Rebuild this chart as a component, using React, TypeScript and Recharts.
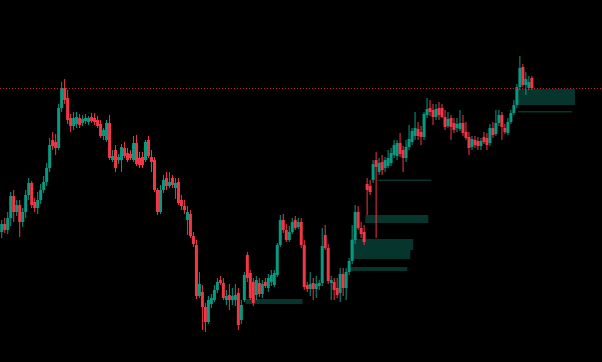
import { ComposedChart, Bar, XAxis, YAxis, ReferenceArea, ReferenceLine } from 'recharts'

// price levels are read straight off the picture (screen units, 0 = top), so the y axis is reversed
const opens = [
  232, 224, 230, 218, 196, 212, 205, 222, 212, 195,
  183, 202, 208, 200, 190, 182, 168, 140, 142, 148,
  108, 88, 98, 118, 126, 124, 118, 123, 121, 122,
  117, 118, 120, 124, 136, 140, 123, 160, 150, 160,
  160, 148, 153, 154, 160, 143, 158, 157, 160, 140,
  157, 160, 190, 212, 190, 178, 186, 178, 188, 182,
  200, 206, 220, 214, 236, 245, 296, 292, 307, 322,
  304, 300, 290, 280, 283, 300, 295, 300, 300, 293,
  320, 300, 255, 273, 282, 295, 283, 294, 282, 288,
  282, 285, 275, 245, 220, 230, 240, 232, 220, 227,
  222, 245, 285, 289, 283, 289, 286, 283, 235, 248,
  283, 282, 288, 293, 274, 288, 272, 261, 240, 212,
  228, 232, 184, 186, 180, 160, 172, 162, 168, 166,
  163, 155, 156, 143, 150, 158, 147, 142, 136, 129,
  132, 137, 115, 108, 110, 117, 108, 108, 117, 126,
  118, 123, 128, 129, 123, 132, 137, 147, 140, 141,
  146, 137, 138, 143, 128, 134, 123, 115, 128, 133,
  122, 113, 105, 87, 67, 85, 88, 78,
]
const highs = [
  220, 218, 212, 192, 190, 200, 200, 208, 190, 178,
  181, 198, 192, 184, 176, 163, 138, 132, 134, 104,
  82, 79, 90, 114, 112, 112, 114, 115, 114, 116,
  113, 113, 116, 120, 128, 120, 115, 150, 145, 154,
  144, 142, 148, 150, 136, 135, 152, 152, 140, 136,
  150, 157, 188, 185, 175, 172, 172, 175, 178, 178,
  195, 200, 206, 210, 232, 240, 272, 285, 303, 296,
  294, 285, 278, 276, 278, 290, 284, 288, 284, 288,
  300, 272, 252, 270, 278, 276, 278, 280, 278, 274,
  270, 270, 243, 215, 214, 224, 226, 218, 216, 218,
  218, 240, 282, 272, 278, 276, 280, 228, 225, 244,
  276, 278, 278, 268, 268, 268, 258, 225, 205, 206,
  222, 225, 178, 180, 160, 152, 158, 155, 157, 150,
  148, 140, 140, 133, 146, 140, 125, 128, 112, 122,
  126, 112, 98, 100, 104, 104, 102, 104, 110, 112,
  115, 118, 118, 110, 115, 122, 132, 136, 136, 137,
  138, 132, 133, 124, 122, 110, 110, 112, 124, 118,
  110, 100, 84, 56, 64, 72, 76, 76,
]
const lows = [
  238, 233, 234, 226, 222, 216, 237, 227, 218, 200,
  208, 212, 214, 204, 193, 186, 172, 150, 155, 150,
  112, 104, 124, 132, 130, 128, 128, 126, 124, 125,
  123, 125, 128, 138, 140, 142, 160, 162, 172, 164,
  172, 158, 162, 160, 162, 166, 168, 168, 162, 158,
  172, 192, 215, 214, 193, 190, 188, 188, 199, 205,
  210, 214, 235, 238, 247, 299, 298, 330, 332, 324,
  308, 302, 293, 285, 300, 305, 310, 305, 306, 330,
  324, 302, 282, 300, 306, 300, 297, 298, 288, 292,
  286, 287, 277, 247, 233, 242, 242, 234, 230, 229,
  248, 290, 292, 296, 300, 298, 290, 286, 250, 284,
  300, 300, 298, 302, 296, 300, 275, 264, 244, 230,
  238, 245, 215, 195, 183, 238, 175, 175, 172, 168,
  166, 158, 160, 157, 172, 162, 150, 145, 140, 140,
  145, 140, 118, 116, 125, 120, 120, 118, 130, 128,
  140, 133, 132, 131, 136, 140, 155, 150, 148, 150,
  150, 144, 150, 146, 138, 136, 126, 140, 134, 135,
  124, 115, 108, 90, 87, 95, 90, 90,
]
const closes = [
  224, 230, 218, 196, 212, 205, 222, 212, 195, 183,
  205, 208, 200, 190, 182, 168, 145, 146, 148, 108,
  88, 100, 120, 126, 118, 117, 125, 119, 118, 118,
  121, 122, 126, 136, 130, 123, 158, 156, 168, 157,
  147, 156, 160, 158, 143, 164, 165, 165, 142, 156,
  162, 190, 212, 190, 180, 186, 182, 185, 183, 203,
  206, 210, 212, 236, 244, 296, 284, 307, 322, 300,
  298, 290, 282, 283, 298, 296, 300, 296, 295, 325,
  305, 275, 278, 298, 303, 280, 294, 284, 286, 278,
  275, 273, 245, 220, 230, 240, 232, 222, 228, 222,
  245, 287, 289, 284, 289, 284, 283, 246, 248, 281,
  280, 290, 295, 274, 288, 272, 261, 240, 212, 228,
  234, 242, 190, 192, 164, 167, 163, 170, 160, 158,
  153, 145, 143, 154, 158, 147, 139, 131, 128, 136,
  137, 114, 109, 112, 117, 109, 115, 117, 127, 119,
  127, 130, 124, 123, 133, 138, 148, 139, 145, 146,
  141, 142, 145, 128, 135, 123, 115, 127, 132, 122,
  113, 105, 87, 68, 85, 79, 82, 88,
]

const SLOTS = 201
const resistance = 88.5

// demand zones: first bar, last bar, top level, bottom level
const zones = [
  { x1: 173, x2: 191, y1: 89, y2: 105 },
  { x1: 173, x2: 190, y1: 111, y2: 112.5 },
  { x1: 126, x2: 143, y1: 179.5, y2: 181 },
  { x1: 122, x2: 142, y1: 215, y2: 223 },
  { x1: 117, x2: 137, y1: 239, y2: 250 },
  { x1: 117, x2: 136, y1: 250, y2: 259 },
  { x1: 117, x2: 135, y1: 267, y2: 271 },
  { x1: 82, x2: 100, y1: 299, y2: 304 },
]

const GREEN = '#089981'
const RED = '#f23645'

const rows = Array.from({ length: SLOTS }, (_, i) =>
  i < opens.length
    ? { i, o: opens[i], h: highs[i], l: lows[i], c: closes[i], range: [highs[i], lows[i]] }
    : { i, range: null }
)

function Candle(props: any) {
  const { x, y, width, height, payload } = props
  if (!payload || payload.o == null) return null
  const top = Math.min(y, y + height)
  const bottom = Math.max(y, y + height)
  const span = payload.l - payload.h
  const py = (v: number) => top + ((v - payload.h) / span) * (bottom - top)
  const up = payload.c < payload.o
  const color = up ? GREEN : RED
  const bTop = py(Math.min(payload.o, payload.c))
  const bBot = py(Math.max(payload.o, payload.c))
  const cx = x + width / 2
  return (
    <g>
      <line x1={cx} x2={cx} y1={top} y2={bottom} stroke={color} strokeWidth={1} />
      <rect x={x} y={bTop} width={width} height={Math.max(1, bBot - bTop)} fill={color} />
    </g>
  )
}

export default function App() {
  return (
    <div style={{ position: 'fixed', left: 0, top: 0, width: 602, height: 362, background: '#000' }}>
      <ComposedChart
        width={602}
        height={362}
        data={rows}
        margin={{ top: 0, right: 0, bottom: 0, left: 0 }}
        barCategoryGap="8%"
      >
        <XAxis dataKey="i" hide />
        <YAxis hide reversed domain={[0, 362]} allowDataOverflow />
        {zones.map((z, k) => (
          <ReferenceArea
            key={k}
            x1={z.x1}
            x2={z.x2}
            y1={z.y1}
            y2={z.y2}
            fill="#06352e"
            fillOpacity={1}
            stroke="none"
          />
        ))}
        <ReferenceLine y={resistance} stroke="#c3262e" strokeDasharray="1 2" />
        <Bar dataKey="range" shape={<Candle />} isAnimationActive={false} />
      </ComposedChart>
    </div>
  )
}
